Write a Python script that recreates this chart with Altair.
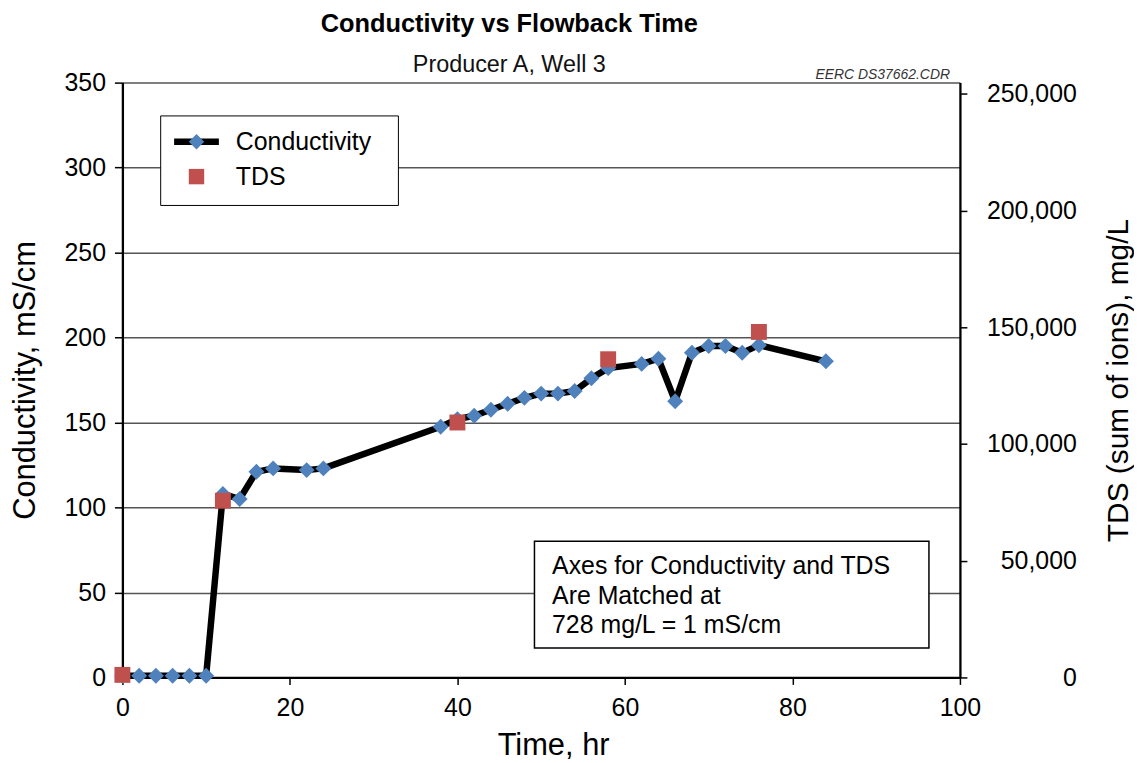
import altair as alt
import pandas as pd

# ---- data ----
time_hr = [0, 2, 4, 6, 8, 10, 12, 14, 16, 18, 22, 24, 38, 40, 42, 44, 46, 48, 50, 52,
           54, 56, 58, 62, 64, 66, 68, 70, 72, 74, 76, 84]
conductivity = [1, 1, 1, 1, 1, 1, 108, 105, 121, 123, 122, 123, 147.5, 152, 154, 157.5,
                161, 164.5, 167, 167, 168.5, 176, 182, 184.5, 187.5, 162.5, 191, 195, 195,
                191, 195.5, 186]
tds_time = [0, 12, 40, 58, 76]
tds_mgL = [1100, 75700, 109200, 136300, 148000]

x_ticks = [0, 20, 40, 60, 80, 100]
y_ticks = [0, 50, 100, 150, 200, 250, 300, 350]
tds_ticks = [0, 50000, 100000, 150000, 200000, 250000]
ratio = 728  # mg/L per mS/cm

note_lines = ["Axes for Conductivity and TDS", "Are Matched at", "728 mg/L = 1 mS/cm"]
note_box_x = [49.2, 96.3]
note_box_y = [17.3, 80.1]
note_text_xy = [51.3, 60.7]
stamp = "EERC DS37662.CDR"

series = ["Conductivity", "TDS"]
FONT = "Liberation Sans"
BLUE = "#4F81BD"
RED = "#C0504D"

cond_df = pd.DataFrame({"time": time_hr, "cond": conductivity, "series": "Conductivity"})
tds_df = pd.DataFrame({"time": tds_time, "tds": tds_mgL, "series": "TDS"})
box_df = pd.DataFrame({"x": [note_box_x[0]], "x2": [note_box_x[1]],
                       "y": [note_box_y[0]], "y2": [note_box_y[1]]})
note_df = pd.DataFrame({"x": [note_text_xy[0]], "y": [note_text_xy[1]],
                        "t": ["\n".join(note_lines)]})
stamp_df = pd.DataFrame({"x": [100], "y": [350], "t": [stamp]})

xscale = alt.Scale(domain=[0, 100], nice=False)
yscale = alt.Scale(domain=[0, 350], nice=False)


def x_axis():
    return alt.Axis(values=x_ticks, title="Time, hr", labelFlush=False, grid=False,
                    tickSize=7, labelPadding=11, titlePadding=10, format="d",
                    titleX=433)


def y_axis():
    return alt.Axis(values=y_ticks, title="Conductivity, mS/cm", grid=True,
                    tickSize=8, labelPadding=9, titlePadding=23, format="d",
                    orient="left")


def XF(field):
    return alt.X(field, scale=xscale, axis=x_axis())


def YF(field):
    return alt.Y(field, scale=yscale, axis=y_axis())


legend_common = dict(title=None, orient="none", legendX=38, legendY=33,
                     direction="vertical", padding=14, rowPadding=9,
                     labelFontSize=25, labelFont=FONT, symbolOffset=10)

box = alt.Chart(box_df).mark_rect(fill="white", stroke="black", strokeWidth=1.5).encode(
    x=XF("x:Q"), x2="x2:Q", y=YF("y:Q"), y2="y2:Q")

note = alt.Chart(note_df).mark_text(align="left", baseline="alphabetic", fontSize=25,
                                    font=FONT, color="black", lineBreak="\n",
                                    lineHeight=29.5).encode(
    x=XF("x:Q"), y=YF("y:Q"), text="t:N")

line = alt.Chart(cond_df).mark_line(strokeWidth=6.5, strokeJoin="round").encode(
    x=XF("time:Q"),
    y=YF("cond:Q"),
    color=alt.Color("series:N",
                    scale=alt.Scale(domain=["Conductivity", "TDS_"],
                                    range=["black", "rgba(0,0,0,0)"]),
                    legend=alt.Legend(symbolType="M-3,0L3,0", symbolSize=225,
                                      symbolStrokeWidth=6.5, labelOpacity=0,
                                      labelExpr="' '", labelOffset=176,
                                      fillColor="white", strokeColor="black",
                                      **legend_common)))

fill_enc = alt.Fill("series:N", scale=alt.Scale(domain=series, range=[BLUE, RED]),
                    legend=alt.Legend(symbolSize=240, labelOffset=27, labelColor="black",
                                      symbolStrokeWidth=0, **legend_common))
shape_enc = alt.Shape("series:N", scale=alt.Scale(domain=series, range=["diamond", "square"]),
                      legend=alt.Legend(symbolSize=240, labelOffset=27, labelColor="black",
                                        symbolStrokeWidth=0, **legend_common))

diamonds = alt.Chart(cond_df).mark_point(filled=True, size=256, opacity=1).encode(
    x=XF("time:Q"), y=YF("cond:Q"), fill=fill_enc, shape=shape_enc)

stampmark = alt.Chart(stamp_df).mark_text(align="right", baseline="alphabetic", fontSize=14,
                                          fontStyle="italic", font=FONT, color="#333333",
                                          dx=-10, dy=-4).encode(
    x=XF("x:Q"), y=YF("y:Q"), text="t:N")

left = alt.layer(box, note, line, diamonds, stampmark)

squares = alt.Chart(tds_df).mark_point(filled=True, size=256, opacity=1).encode(
    x=XF("time:Q"),
    y=alt.Y("tds:Q", scale=alt.Scale(domain=[0, 350 * ratio], nice=False),
            axis=alt.Axis(orient="right", values=tds_ticks, format=",.0f", grid=False,
                          title="TDS (sum of ions), mg/L", titleAngle=270,
                          titleBaseline="top", titlePadding=27, titleFontSize=30,
                          labelAlign="right", labelPadding=110, tickSize=7)),
    fill=fill_enc, shape=shape_enc)

chart = alt.layer(left, squares).resolve_scale(y="independent").properties(
    width=842, height=598,
    autosize=alt.AutoSizeParams(type="none"),
    padding={"left": 115, "top": 73, "right": 175, "bottom": 82},
    title=alt.TitleParams(text="Conductivity vs Flowback Time", subtitle="Producer A, Well 3",
                          fontSize=25.5, fontWeight="bold", font=FONT, color="black",
                          subtitleFontSize=23.5, subtitleFont=FONT, subtitleColor="#111111",
                          anchor="middle", dx=-32, offset=-9, subtitlePadding=16),
).configure(font=FONT).configure_view(strokeWidth=0).configure_axis(
    labelFontSize=25, labelFont=FONT, labelColor="black",
    titleFontSize=31, titleFont=FONT, titleColor="black", titleFontWeight="normal",
    domainColor="black", domainWidth=2.3, tickColor="black", tickWidth=1.5,
    gridColor="#555555", gridWidth=1.5,
)

chart.save("out.html", embed_options={"renderer": "svg", "actions": False})
